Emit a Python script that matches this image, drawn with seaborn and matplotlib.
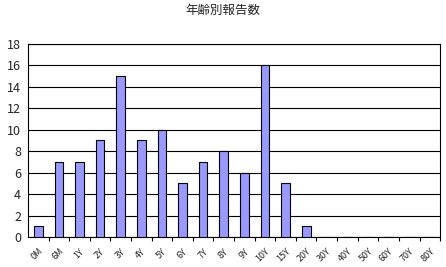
import matplotlib
matplotlib.use("Agg")
import matplotlib.pyplot as plt
import seaborn as sns
import pandas as pd
import numpy as np

categories = ["0M", "6M", "1Y", "2Y", "3Y", "4Y", "5Y", "6Y", "7Y", "8Y", "9Y",
              "10Y", "15Y", "20Y", "30Y", "40Y", "50Y", "60Y", "70Y", "80Y"]
values = [1, 7, 7, 9, 15, 9, 10, 5, 7, 8, 6, 16, 5, 1, 0, 0, 0, 0, 0, 0]
title = "年齢別報告数"

sns.set_style("white")
plt.rcParams['font.family'] = ['Noto Sans CJK JP', 'DejaVu Sans']

df = pd.DataFrame({"cat": categories, "val": values})

fig = plt.figure(figsize=(4.46, 2.67), dpi=100)
ax = fig.add_axes([0.0628, 0.1124, 0.924, 0.723])
sns.barplot(data=df, x="cat", y="val", ax=ax, color="#9999ff", saturation=1,
            width=0.42, edgecolor="black", linewidth=0.8, zorder=3)
ax.set_ylim(0, 18)
ax.set_yticks(range(0, 19, 2))
ax.set_xlim(-0.5, len(categories) - 0.5)
ax.yaxis.grid(True, color="black", linewidth=0.8, zorder=0)
ax.set_axisbelow(True)
for s in ax.spines.values():
    s.set_color("black")
    s.set_linewidth(0.8)
ax.set_xlabel("")
ax.set_ylabel("")
ax.tick_params(axis="y", labelsize=9, length=0, pad=5)
ax.set_xticks(np.arange(len(categories)))
ax.set_xticklabels(categories, rotation=45, ha="right", rotation_mode="anchor", fontsize=6.5)
ax.tick_params(axis="x", which="major", length=0, pad=7)
ax.set_xticks(np.arange(len(categories)) + 0.5, minor=True)
ax.tick_params(axis="x", which="minor", bottom=True, length=3, width=0.8,
               color="black", direction="out")
fig.suptitle(title, y=0.985, fontsize=9)
fig.savefig("out.png", dpi=100)
